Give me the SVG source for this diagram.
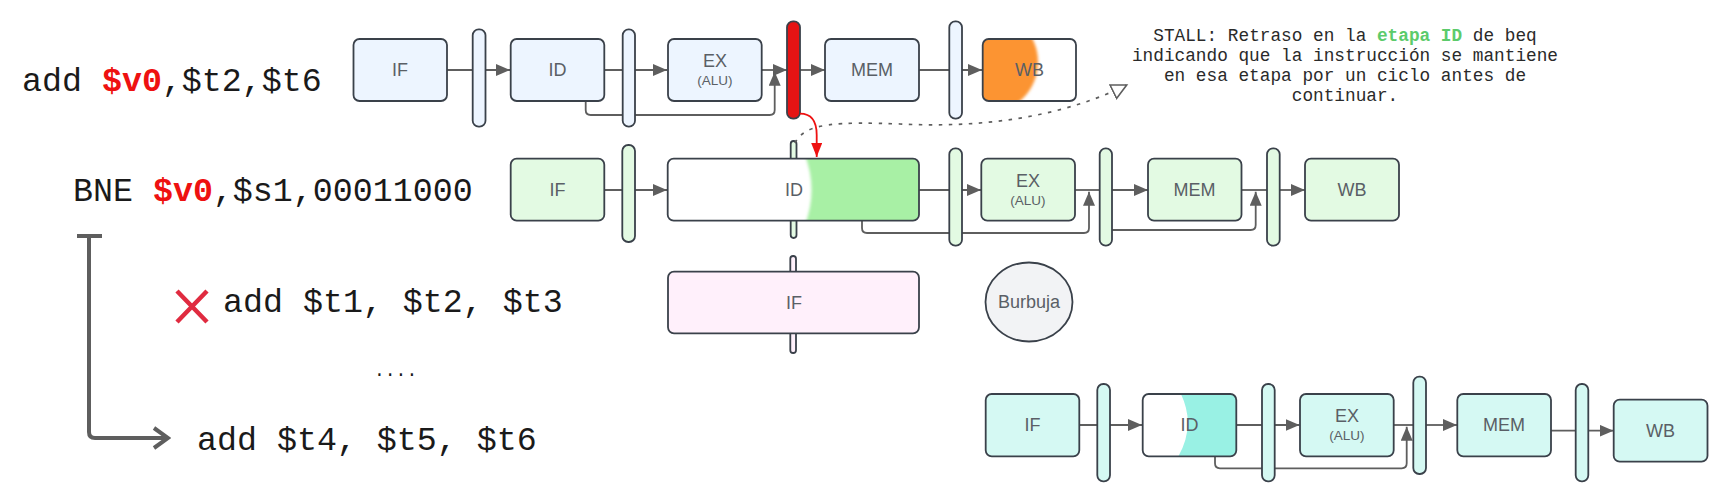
<svg xmlns="http://www.w3.org/2000/svg" width="1726" height="491" viewBox="0 0 1726 491">
<defs>
<marker id="a" markerUnits="userSpaceOnUse" markerWidth="15" markerHeight="12" refX="14" refY="6" orient="auto"><path d="M0 0L14 6L0 12Z" fill="#5e5e5e"/></marker>
<marker id="r" markerUnits="userSpaceOnUse" markerWidth="15" markerHeight="12" refX="14" refY="5.5" orient="auto"><path d="M0 0L14 5.5L0 11Z" fill="#ee1111"/></marker>
<marker id="h" markerUnits="userSpaceOnUse" markerWidth="20" markerHeight="20" refX="16" refY="9" orient="auto"><path d="M1 1.5L16 9L1 16.5Z" fill="#fff" stroke="#5e5e5e" stroke-width="1.6"/></marker>
<marker id="o" markerUnits="userSpaceOnUse" markerWidth="20" markerHeight="24" refX="17" refY="12" orient="auto"><path d="M3 2L17 12L3 22" fill="none" stroke="#5e5e5e" stroke-width="4"/></marker>
<clipPath id="c1"><rect x="982.7" y="39" width="93.3" height="62" rx="6"/></clipPath>
<clipPath id="c2"><rect x="667.7" y="158.7" width="251.3" height="62" rx="6"/></clipPath>
<clipPath id="c3"><rect x="1142.7" y="394" width="93.6" height="62.3" rx="6"/></clipPath>
<filter id="b" x="-10%" y="-10%" width="120%" height="120%"><feGaussianBlur stdDeviation="1.5"/></filter>
</defs>
<style>
.n{stroke:#3a414a;stroke-width:1.8}
.bl{fill:#edf5ff}.gr{fill:#e3fae3}.pk{fill:#fff0fb}.te{fill:#d5f9f3}.wh{fill:#fff}
.l{font-family:"Liberation Sans",Arial,sans-serif;font-size:18px;fill:#5a5f66;text-anchor:middle}
.s{font-family:"Liberation Sans",Arial,sans-serif;font-size:13.5px;fill:#5a5f66;text-anchor:middle}
.m{font-family:"Liberation Mono","Courier New",monospace;font-size:33.3px;fill:#1a1a1a}
.an{font-family:"Liberation Mono","Courier New",monospace;font-size:17.75px;fill:#2a2a2a;text-anchor:middle}
.c{fill:none;stroke:#5e5e5e;stroke-width:1.8}
.ar{marker-end:url(#a)}
.red{fill:#ee1111;font-weight:bold}
</style>
<g id="connectors">
<path class="c ar" d="M447 70H510"/><path class="c ar" d="M604 70H667"/><path class="c ar" d="M762 70H787"/><path class="c ar" d="M800 70H825"/><path class="c ar" d="M919 70H982"/>
<path class="c ar" d="M585.7 101V110Q585.7 115 590.7 115H769.7Q774.7 115 774.7 110V71.7"/>
<path class="c ar" d="M604 190H667"/><path class="c ar" d="M919 190H981"/><path class="c" d="M1075 190H1100"/><path class="c ar" d="M1112 190H1148"/><path class="c" d="M1241 190H1267"/><path class="c ar" d="M1280 190H1305"/>
<path class="c ar" d="M862 221V228Q862 233 867 233H1084Q1089 233 1089 228V191.7"/>
<path class="c ar" d="M1112 230H1250.7Q1255.7 230 1255.7 225V191.7"/>
<path class="c ar" d="M1079 425H1142"/><path class="c ar" d="M1236 425H1299.5"/><path class="c" d="M1394 425H1414"/><path class="c ar" d="M1426 425H1457"/><path class="c ar" d="M1551 430.7H1613.5"/>
<path class="c ar" d="M1215 456V463.3Q1215 468.3 1220 468.3H1401.7Q1406.7 468.3 1406.7 463.3V426.7"/>
<path fill="none" stroke="#5e5e5e" stroke-width="4" marker-end="url(#o)" d="M89 236V432Q89 438 95 438H168"/>
<path fill="none" stroke="#5e5e5e" stroke-width="4" d="M77 236H102"/>
</g>
<g id="n-if1"><rect class="n bl" x="353.5" y="39" width="93.5" height="62" rx="6"/><text class="l" x="400" y="76">IF</text></g>
<g id="n-b1"><rect class="n bl" x="472.7" y="29.3" width="12.8" height="97.4" rx="6"/></g>
<g id="n-id1"><rect class="n bl" x="510.7" y="39" width="93.6" height="62" rx="6"/><text class="l" x="557.5" y="76">ID</text></g>
<g id="n-b2"><rect class="n bl" x="622.7" y="29.3" width="12.3" height="97.4" rx="6"/></g>
<g id="n-ex1"><rect class="n bl" x="668" y="39" width="93.7" height="62" rx="6"/><text class="l" x="715" y="67">EX</text><text class="s" x="715" y="85">(ALU)</text></g>
<g id="n-b3"><rect class="n" fill="#e51414" x="787" y="21.3" width="13" height="97.4" rx="6"/></g>
<g id="n-mem1"><rect class="n bl" x="825" y="39" width="94" height="62" rx="6"/><text class="l" x="872" y="76">MEM</text></g>
<g id="n-b4"><rect class="n bl" x="949.3" y="21.3" width="12.7" height="97.4" rx="6"/></g>
<g id="n-wb1"><rect class="wh" x="982.7" y="39" width="93.3" height="62" rx="6"/><g clip-path="url(#c1)"><ellipse cx="985" cy="62" rx="53" ry="52" fill="#fc9432" filter="url(#b)"/></g><rect x="982.7" y="39" width="93.3" height="62" rx="6" fill="none" class="n"/><text class="l" x="1029.5" y="76">WB</text></g>
<g id="n-if2"><rect class="n gr" x="510.7" y="158.7" width="93.6" height="62" rx="6"/><text class="l" x="557.5" y="195.7">IF</text></g>
<g id="n-b5"><rect class="n gr" x="622.3" y="145" width="12.7" height="97" rx="6"/></g>
<g id="n-thin"><rect class="n gr" x="790.7" y="141" width="5.8" height="97" rx="2.9"/></g>
<g id="n-id2"><rect class="wh" x="667.7" y="158.7" width="251.3" height="62" rx="6"/><g clip-path="url(#c2)"><path d="M803 150Q820 190 803 230H930V150Z" fill="#a8f0a5" filter="url(#b)"/></g><rect x="667.7" y="158.7" width="251.3" height="62" rx="6" fill="none" class="n"/><text class="l" x="794" y="195.7">ID</text></g>
<g id="n-b6"><rect class="n gr" x="949.3" y="148.3" width="12.7" height="97.4" rx="6"/></g>
<g id="n-ex2"><rect class="n gr" x="981.3" y="158.7" width="93.7" height="62" rx="6"/><text class="l" x="1028" y="187">EX</text><text class="s" x="1028" y="205">(ALU)</text></g>
<g id="n-b7"><rect class="n gr" x="1099.7" y="148.3" width="12.3" height="97.4" rx="6"/></g>
<g id="n-mem2"><rect class="n gr" x="1148" y="158.7" width="93.5" height="62" rx="6"/><text class="l" x="1194.5" y="195.7">MEM</text></g>
<g id="n-b8"><rect class="n gr" x="1267" y="148.3" width="12.7" height="97.4" rx="6"/></g>
<g id="n-wb2"><rect class="n gr" x="1305" y="158.7" width="94" height="62" rx="6"/><text class="l" x="1352" y="195.7">WB</text></g>
<g id="n-thin3"><rect class="n pk" x="790.3" y="256" width="5.7" height="97" rx="2.8"/></g>
<g id="n-if3"><rect class="n pk" x="668" y="271.7" width="251" height="61.6" rx="6"/><text class="l" x="794" y="308.5">IF</text></g>
<g id="n-burbuja"><ellipse class="n" fill="#f2f3f5" cx="1029" cy="302" rx="43.5" ry="39.5"/><text class="l" x="1029" y="308">Burbuja</text></g>
<g id="n-if4"><rect class="n te" x="985.7" y="394" width="93.6" height="62.3" rx="6"/><text class="l" x="1032.5" y="431">IF</text></g>
<g id="n-b9"><rect class="n te" x="1097.3" y="384" width="12.7" height="97.3" rx="6"/></g>
<g id="n-id4"><rect class="wh" x="1142.7" y="394" width="93.6" height="62.3" rx="6"/><g clip-path="url(#c3)"><path d="M1176 385Q1201 425 1173 465H1245V385Z" fill="#99f1e4"/></g><rect x="1142.7" y="394" width="93.6" height="62.3" rx="6" fill="none" class="n"/><text class="l" x="1189.5" y="431">ID</text></g>
<g id="n-b10"><rect class="n te" x="1262" y="384" width="12.7" height="97.3" rx="6"/></g>
<g id="n-ex4"><rect class="n te" x="1300" y="394" width="93.7" height="62.3" rx="6"/><text class="l" x="1347" y="422">EX</text><text class="s" x="1347" y="440">(ALU)</text></g>
<g id="n-b11"><rect class="n te" x="1413.3" y="376.7" width="12.7" height="97.3" rx="6"/></g>
<g id="n-mem4"><rect class="n te" x="1457.3" y="394" width="93.7" height="62.3" rx="6"/><text class="l" x="1504" y="431">MEM</text></g>
<g id="n-b12"><rect class="n te" x="1575.7" y="384" width="12.6" height="97.3" rx="6"/></g>
<g id="n-wb4"><rect class="n te" x="1613.7" y="399.7" width="93.8" height="62" rx="6"/><text class="l" x="1660.5" y="436.7">WB</text></g>
<g id="overlay-connectors">
<path fill="none" stroke="#ee1111" stroke-width="1.8" marker-end="url(#r)" d="M800 113.7C812 113.7 816.7 122 816.7 135V157"/>
<path fill="none" stroke="#5e5e5e" stroke-width="1.7" stroke-dasharray="3.5 6.5" marker-end="url(#h)" d="M795 143C805 122 840 122 900 124C980 128 1060 118 1126.7 85"/>
<path d="M177 291L207 322M207 291L177 322" stroke="#e02b40" stroke-width="4.5" fill="none"/>
</g>
<text class="m" x="22" y="91">add <tspan class="red">$v0</tspan>,$t2,$t6</text>
<text class="m" x="73" y="201">BNE <tspan class="red">$v0</tspan>,$s1,00011000</text>
<text class="m" x="223" y="311.5">add $t1, $t2, $t3</text>
<text class="m" style="font-size:18px" x="374" y="376">....</text>
<text class="m" x="197" y="450">add $t4, $t5, $t6</text>
<text class="an"><tspan x="1345" y="40.7">STALL: Retraso en la <tspan font-weight="bold" fill="#5ccb6b">etapa ID</tspan> de beq</tspan><tspan x="1345" y="60.7">indicando que la instrucción se mantiene</tspan><tspan x="1345" y="81">en esa etapa por un ciclo antes de</tspan><tspan x="1345" y="101">continuar.</tspan></text>
</svg>
